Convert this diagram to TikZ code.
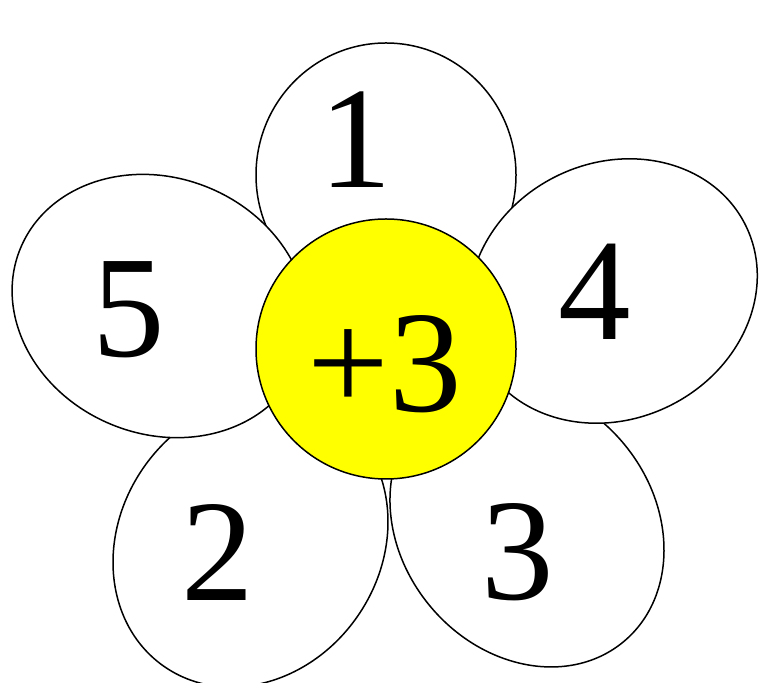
\documentclass[tikz,border=0pt]{standalone}
\usepackage{fontspec}
\setmainfont{Liberation Serif}
\usepackage{tikz}
\usetikzlibrary{positioning}
\definecolor{PetalYellow}{RGB}{255,255,0}

\tikzset{
	petal/.style={draw=black, line width=1.5pt},
	digit/.style={inner sep=0pt, font=\fontsize{145}{145}\selectfont}
}

\begin{document}
\begin{tikzpicture}[x=1pt, y=1pt]
	\useasboundingbox (0,0) rectangle (759,682);
	
	% 花瓣中心
	\coordinate (c1) at (386,507);
	\coordinate (c2) at (250.5,140);
	\coordinate (c3) at (527,157);
	\coordinate (c4) at (613,391);
	\coordinate (c5) at (160,376);
	\coordinate (O) at (386,333);
	
	% 下面两片 (只画轮廓, 相交处两条线都可见)
	\draw[petal, rotate around={55.4:(c2)}] (c2) ellipse [x radius=151.5, y radius=130.3];
	\draw[petal, rotate around={-50.7:(c3)}] (c3) ellipse [x radius=151.5, y radius=126.4];
	
	% 上面一片
	\draw[petal, fill=white] (c1) ellipse [x radius=130, y radius=132];
	
	% 左右两片 (压在上面一片之上)
	\draw[petal, fill=white, rotate around={-22.5:(c5)}] (c5) ellipse [x radius=151, y radius=128];
	\draw[petal, fill=white, rotate around={26.4:(c4)}] (c4) ellipse [x radius=148, y radius=128];
	
	% 花心
	\draw[petal, fill=PetalYellow] (O) circle (130);
	
	% 数字
	\node[digit] (n1) at (356,542) {1};
	\node[digit] (n2) at (218,130) {2};
	\node[digit] (n3) at (518,130) {3};
	\node[digit] (n4) at (595,390) {4};
	\node[digit] (n5) at (129,372) {5};
	\node[digit] (plus) at (385,318) {+3};
\end{tikzpicture}
\end{document}
